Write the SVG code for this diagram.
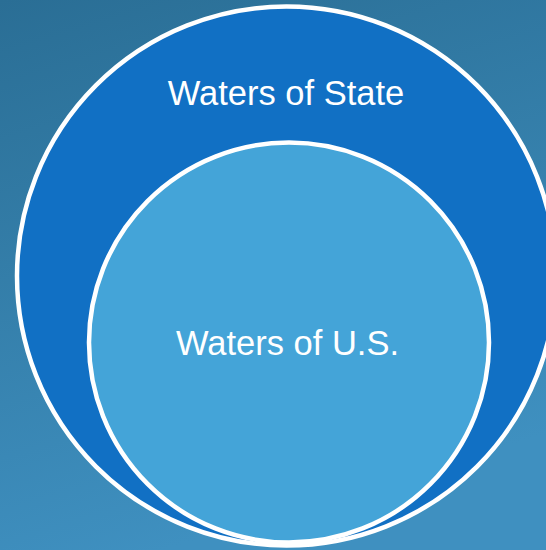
<svg xmlns="http://www.w3.org/2000/svg" width="546" height="550" viewBox="0 0 546 550">
  <defs>
    <linearGradient id="bg" x1="0" y1="0" x2="0.3" y2="1">
      <stop offset="0" stop-color="#2A6E95"/>
      <stop offset="1" stop-color="#3F90C0"/>
    </linearGradient>
    <style>
      .ring { stroke: #FFFFFF; stroke-width: 4.5; }
      .outer { fill: #1170C4; }
      .inner { fill: #44A4D8; }
      .label { font-family: "Liberation Sans", Arial, sans-serif; font-size: 34.5px; fill: #FFFFFF; text-anchor: middle; }
    </style>
  </defs>
  <rect x="0" y="0" width="546" height="550" fill="url(#bg)"/>
  <g id="waters-of-state">
    <circle class="ring outer" cx="286.5" cy="276" r="269.5"/>
    <text class="label" x="286" y="105">Waters of State</text>
  </g>
  <g id="waters-of-us">
    <circle class="ring inner" cx="289" cy="342.5" r="200"/>
    <text class="label" x="287.5" y="355">Waters of U.S.</text>
  </g>
  <g id="connectors"></g>
</svg>
